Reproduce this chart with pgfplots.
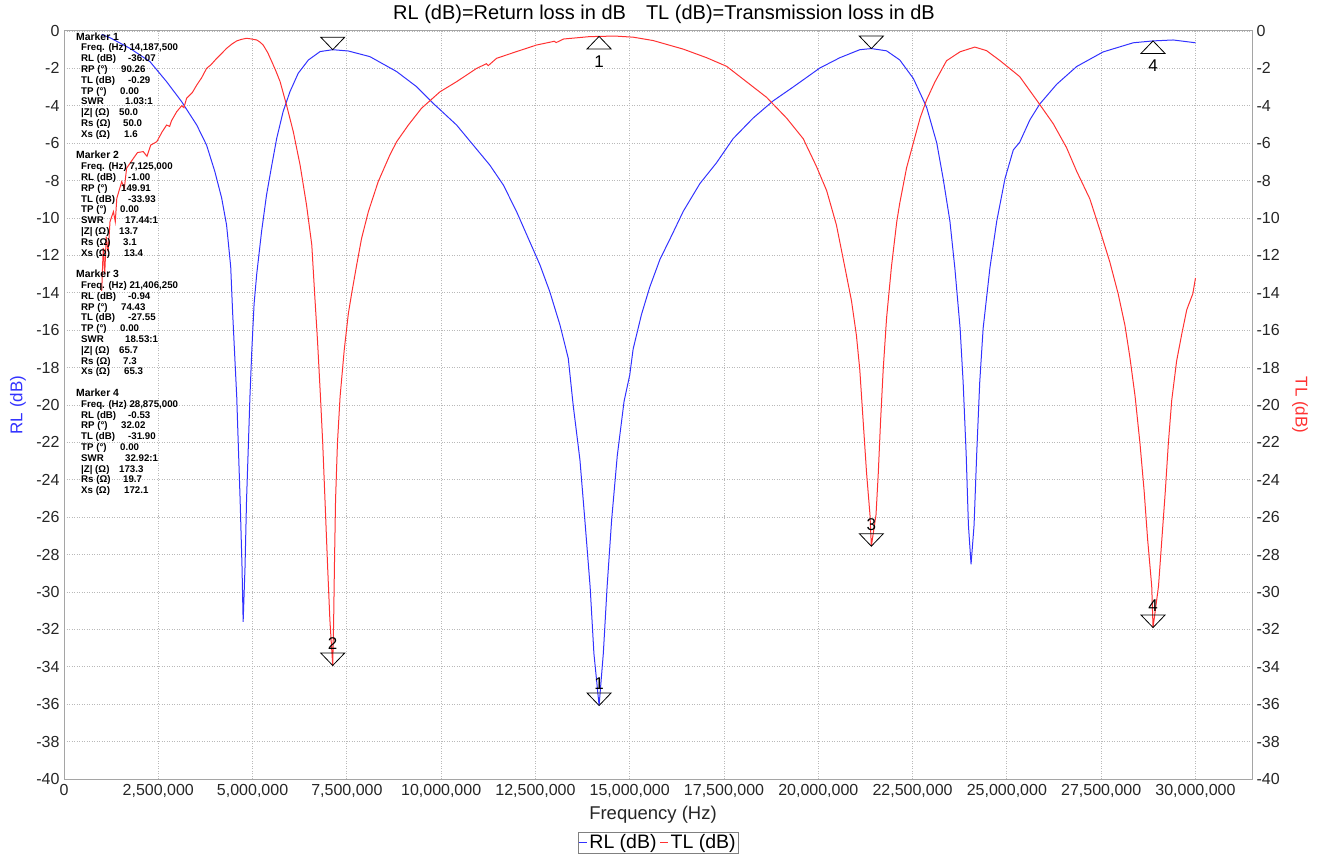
\documentclass[border=0pt]{standalone}
\usepackage{fontspec}
\setmainfont{Liberation Sans}
\usepackage{pgfplots}
\pgfplotsset{compat=1.18}

\definecolor{rlblue}{RGB}{50,50,255}
\definecolor{tlred}{RGB}{255,50,50}
\definecolor{gridgray}{RGB}{185,185,185}
\definecolor{framegray}{RGB}{165,165,165}

% marker triangles, tip on the data point
\pgfdeclareplotmark{mkdown}{%
  \pgfpathmoveto{\pgfqpoint{0pt}{0pt}}%
  \pgfpathlineto{\pgfqpoint{-12pt}{12.5pt}}%
  \pgfpathlineto{\pgfqpoint{12pt}{12.5pt}}%
  \pgfpathclose\pgfusepathqstroke}
\pgfdeclareplotmark{mkup}{%
  \pgfpathmoveto{\pgfqpoint{0pt}{0pt}}%
  \pgfpathlineto{\pgfqpoint{-12pt}{-12.5pt}}%
  \pgfpathlineto{\pgfqpoint{12pt}{-12.5pt}}%
  \pgfpathclose\pgfusepathqstroke}

\newcommand\tickfont{\fontsize{16}{18}\selectfont}
\newcommand\row[3]{\hspace*{5pt}\makebox[#1pt][l]{#2}#3\\}
\newcommand\mhead[1]{{\fontsize{10.4}{10.8}\selectfont Marker #1}\\}

\begin{document}
\begin{tikzpicture}
\path[use as bounding box] (0,0) rectangle (1319pt,860pt);

\begin{axis}[
  at={(64pt,81pt)}, anchor=south west,
  width=1188pt, height=748pt, scale only axis,
  xmin=0, xmax=31.5, ymin=-40, ymax=0,
  xtick={0,2.5,...,30},
  xticklabels={0,{2,500,000},{5,000,000},{7,500,000},{10,000,000},{12,500,000},{15,000,000},{17,500,000},{20,000,000},{22,500,000},{25,000,000},{27,500,000},{30,000,000}},
  ytick={-40,-38,...,0},
  /pgf/number format/assume math mode=true,
  grid=major,
  grid style={gridgray, line width=0.8pt, dash pattern=on 1pt off 1.5pt},
  tick style={draw=none},
  axis line style={framegray, line width=1pt},
  ticklabel style={font=\tickfont, text=black!85},
  xticklabel style={yshift=-2pt},
  yticklabel style={xshift=-1pt},
  xlabel={Frequency (Hz)},
  every axis x label/.style={at={(axis description cs:0.5,0)}, xshift=-5pt, yshift=-36pt, anchor=center, font=\fontsize{18.5}{20}\selectfont, text=black!85},
  ylabel={RL (dB)},
  every axis y label/.style={at={(axis description cs:0,0.5)}, xshift=-46pt, rotate=90, anchor=center, font=\fontsize{17}{20}\selectfont, text=rlblue},
  legend columns=2,
  legend style={at={(axis description cs:0.5,0)}, anchor=north, yshift=-53pt,
    draw=gray, font=\fontsize{19.5}{21}\selectfont, inner sep=0.5pt,
    /tikz/every even column/.append style={column sep=1pt}},
  legend image code/.code={\draw[#1] (-2pt,0pt) -- (6pt,0pt);},
]

% RL (dB), return loss
\addplot[rlblue, line width=1pt] coordinates {
(1.00,-0.18) (1.22,-0.36) (1.75,-0.93) (2.28,-1.64) (2.72,-2.71) (3.12,-3.78)
(3.52,-5.03) (3.78,-6.10) (4.00,-7.52) (4.18,-8.93) (4.31,-10.37) (4.42,-12.6)
(4.47,-15.0) (4.53,-17.5) (4.58,-19.56) (4.62,-22.05) (4.67,-25.08) (4.72,-28.65)
(4.75,-31.6) (4.80,-28.65) (4.84,-25.08) (4.89,-22.05) (4.93,-19.56) (4.98,-17.06)
(5.04,-14.6) (5.11,-13.0) (5.24,-10.7) (5.37,-8.77) (5.51,-7.17) (5.64,-5.74)
(5.81,-4.31) (5.99,-3.25) (6.21,-2.26) (6.48,-1.55) (6.79,-1.10) (7.125,-1.00)
(7.54,-1.07) (8.11,-1.37) (8.82,-2.17) (9.35,-2.98) (9.79,-3.87) (10.41,-5.03)
(10.85,-6.10) (11.29,-7.17) (11.65,-8.24) (12.00,-9.66) (12.35,-11.27) (12.62,-12.51)
(12.88,-13.94) (13.15,-15.72) (13.37,-17.5) (13.50,-20.0) (13.68,-22.94) (13.81,-26.15)
(13.95,-29.72) (14.05,-33.28) (14.1875,-36.07) (14.30,-33.28) (14.40,-29.72) (14.52,-26.15)
(14.67,-22.7) (14.85,-19.8) (15.00,-18.4) (15.09,-17.01) (15.31,-15.17) (15.53,-13.70)
(15.80,-12.22) (16.07,-11.11) (16.42,-9.64) (16.86,-8.16) (17.30,-7.05) (17.74,-5.76)
(18.27,-4.66) (18.80,-3.74) (19.33,-3.00) (20.04,-1.98) (20.57,-1.43) (21.10,-1.00)
(21.40625,-0.94) (21.81,-1.06) (22.16,-1.55) (22.52,-2.54) (22.87,-4.07) (23.14,-5.98)
(23.31,-7.89) (23.49,-10.18) (23.62,-12.67) (23.76,-15.91) (23.84,-18.78) (23.92,-22.6)
(23.98,-26.42) (24.05,-28.52) (24.13,-26.42) (24.20,-22.6) (24.28,-18.78) (24.37,-15.91)
(24.55,-12.67) (24.73,-10.18) (24.95,-7.89) (25.17,-6.36) (25.34,-5.95) (25.61,-4.75)
(25.87,-3.91) (26.32,-2.85) (26.85,-1.90) (27.55,-1.12) (28.35,-0.63) (28.875,-0.53)
(29.41,-0.48) (30.00,-0.63)
};
\addlegendentry{RL (dB)}

% TL (dB), transmission loss
\addplot[tlred, line width=1pt] coordinates {
(1.00,-13.9) (1.04,-11.6) (1.08,-13.0) (1.12,-11.0) (1.17,-11.8) (1.22,-10.2)
(1.31,-9.66) (1.36,-10.2) (1.40,-8.95) (1.53,-8.06) (1.60,-8.4) (1.66,-7.34)
(1.84,-6.81) (1.95,-6.5) (2.10,-6.45) (2.20,-6.7) (2.30,-6.1) (2.46,-5.92)
(2.60,-5.4) (2.72,-5.03) (2.80,-5.1) (2.85,-4.8) (2.99,-4.31) (3.12,-4.0) (3.18,-4.1) (3.25,-3.6)
(3.40,-3.3) (3.52,-2.89) (3.65,-2.5) (3.78,-2.0) (3.90,-1.8) (4.05,-1.46)
(4.18,-1.2) (4.31,-0.93) (4.45,-0.7) (4.58,-0.53) (4.70,-0.45) (4.84,-0.39)
(4.95,-0.42) (5.11,-0.48) (5.20,-0.6) (5.28,-0.75) (5.40,-1.15) (5.51,-1.64)
(5.62,-2.15) (5.73,-2.71) (5.90,-3.96) (6.08,-5.39) (6.26,-7.17) (6.43,-9.3)
(6.57,-11.44) (6.65,-14.2) (6.72,-16.5) (6.80,-19.56) (6.86,-22.05) (6.92,-25.08)
(6.99,-28.65) (7.05,-31.5) (7.125,-33.93) (7.15,-31.5) (7.17,-28.65) (7.20,-25.08)
(7.25,-22.05) (7.32,-19.56) (7.43,-17.06) (7.54,-15.1) (7.63,-14.0) (7.76,-12.51)
(7.89,-11.09) (8.07,-9.66) (8.33,-8.06) (8.64,-6.63) (8.82,-5.92) (9.13,-5.03)
(9.48,-4.13) (9.97,-3.25) (10.41,-2.71) (10.94,-2.0) (11.20,-1.75) (11.25,-1.85) (11.47,-1.46) (12.00,-1.10)
(12.53,-0.75) (13.00,-0.55) (13.05,-0.62) (13.24,-0.43) (13.94,-0.30) (14.1875,-0.29) (14.60,-0.27) (15.09,-0.33)
(15.62,-0.51) (16.42,-0.97) (17.04,-1.43) (17.57,-1.89) (18.10,-2.72) (18.63,-3.55)
(19.16,-4.66) (19.60,-5.76) (19.95,-7.24) (20.22,-8.53) (20.48,-10.37) (20.70,-12.59)
(20.88,-14.43) (21.01,-16.27) (21.10,-18.12) (21.19,-20.89) (21.28,-23.65) (21.37,-25.87)
(21.40625,-27.55) (21.53,-25.87) (21.59,-23.65) (21.65,-20.89) (21.72,-18.12) (21.81,-15.35)
(21.94,-12.59) (22.08,-10.2) (22.16,-9.2) (22.34,-7.32) (22.52,-5.98) (22.70,-4.65)
(22.87,-3.69) (23.09,-2.73) (23.40,-1.59) (23.76,-1.11) (24.15,-0.86) (24.46,-1.05)
(24.82,-1.59) (25.17,-2.16) (25.34,-2.44) (25.79,-3.70) (26.23,-4.96) (26.58,-6.23)
(26.85,-7.50) (27.20,-8.98) (27.47,-10.67) (27.73,-12.36) (27.95,-14.05) (28.13,-15.74)
(28.26,-17.43) (28.40,-19.55) (28.53,-22.08) (28.64,-24.62) (28.73,-27.15) (28.84,-29.69)
(28.875,-31.90) (29.02,-29.69) (29.11,-27.15) (29.20,-24.62) (29.28,-22.08) (29.37,-19.76)
(29.50,-17.65) (29.64,-16.17) (29.77,-14.90) (29.93,-14.05) (30.00,-13.21)
};
\addlegendentry{TL (dB)}

% markers at the dips, label above
\addplot[forget plot, only marks, mark=mkdown, mark options={black, line width=0.8pt},
  point meta=explicit symbolic, nodes near coords,
  every node near coord/.append style={anchor=center, yshift=22pt, font=\fontsize{17}{18}\selectfont, text=black}]
  coordinates {(14.1875,-36.07) [1] (7.125,-33.93) [2] (21.40625,-27.55) [3] (28.875,-31.90) [4]};

% markers at the peaks, pointing down, no label
\addplot[forget plot, only marks, mark=mkdown, mark options={black, line width=0.8pt}]
  coordinates {(7.125,-1.00) (21.40625,-0.94)};

% markers at the peaks, pointing up, label below
\addplot[forget plot, only marks, mark=mkup, mark options={black, line width=0.8pt},
  point meta=explicit symbolic, nodes near coords,
  every node near coord/.append style={anchor=center, yshift=-25pt, font=\fontsize{17}{18}\selectfont, text=black}]
  coordinates {(14.1875,-0.29) [1] (28.875,-0.53) [4]};
\end{axis}

% right axis for TL
\begin{axis}[
  at={(64pt,81pt)}, anchor=south west,
  width=1188pt, height=748pt, scale only axis,
  xmin=0, xmax=31.5, ymin=-40, ymax=0,
  hide x axis, axis y line*=right,
  ytick={-40,-38,...,0},
  /pgf/number format/assume math mode=true,
  tick style={draw=none},
  axis line style={framegray, line width=1pt},
  ticklabel style={font=\tickfont, text=black!85},
  yticklabel style={xshift=1pt},
  ylabel={TL (dB)},
  every axis y label/.style={at={(axis description cs:1,0.5)}, xshift=48pt, rotate=-90, anchor=center, font=\fontsize{17}{20}\selectfont, text=tlred},
]
\addplot[draw=none, forget plot] coordinates {(0,0)};
\end{axis}

% title
\node[inner sep=0pt] at (664pt,846pt) {\fontsize{20}{22}\selectfont RL (dB)=Return loss in dB\quad TL (dB)=Transmission loss in dB};

% marker readout
\node[anchor=base west, inner sep=0pt] at (76pt,819.8pt) {\parbox[t]{200pt}{%
\fontsize{9.7}{10.8}\selectfont\bfseries\setlength\parindent{0pt}%
\mhead{1}
\hspace*{5pt}Freq. (Hz) 14,187,500\\
\row{47}{RL (dB)}{-36.07}
\row{40}{RP (°)}{90.26}
\row{47}{TL (dB)}{-0.29}
\row{39}{TP (°)}{0.00}
\row{44}{SWR}{1.03:1}
\row{38}{|Z| (Ω)}{50.0}
\row{42}{Rs (Ω)}{50.0}
\row{43}{Xs (Ω)}{1.6}
\mbox{}\\
\mhead{2}
\hspace*{5pt}Freq. (Hz) 7,125,000\\
\row{47}{RL (dB)}{-1.00}
\row{40}{RP (°)}{149.91}
\row{47}{TL (dB)}{-33.93}
\row{39}{TP (°)}{0.00}
\row{44}{SWR}{17.44:1}
\row{38}{|Z| (Ω)}{13.7}
\row{42}{Rs (Ω)}{3.1}
\row{43}{Xs (Ω)}{13.4}
\mbox{}\\
\mhead{3}
\hspace*{5pt}Freq. (Hz) 21,406,250\\
\row{47}{RL (dB)}{-0.94}
\row{40}{RP (°)}{74.43}
\row{47}{TL (dB)}{-27.55}
\row{39}{TP (°)}{0.00}
\row{44}{SWR}{18.53:1}
\row{38}{|Z| (Ω)}{65.7}
\row{42}{Rs (Ω)}{7.3}
\row{43}{Xs (Ω)}{65.3}
\mbox{}\\
\mhead{4}
\hspace*{5pt}Freq. (Hz) 28,875,000\\
\row{47}{RL (dB)}{-0.53}
\row{40}{RP (°)}{32.02}
\row{47}{TL (dB)}{-31.90}
\row{39}{TP (°)}{0.00}
\row{44}{SWR}{32.92:1}
\row{38}{|Z| (Ω)}{173.3}
\row{42}{Rs (Ω)}{19.7}
\hspace*{5pt}\makebox[43pt][l]{Xs (Ω)}172.1}};
\end{tikzpicture}
\end{document}
